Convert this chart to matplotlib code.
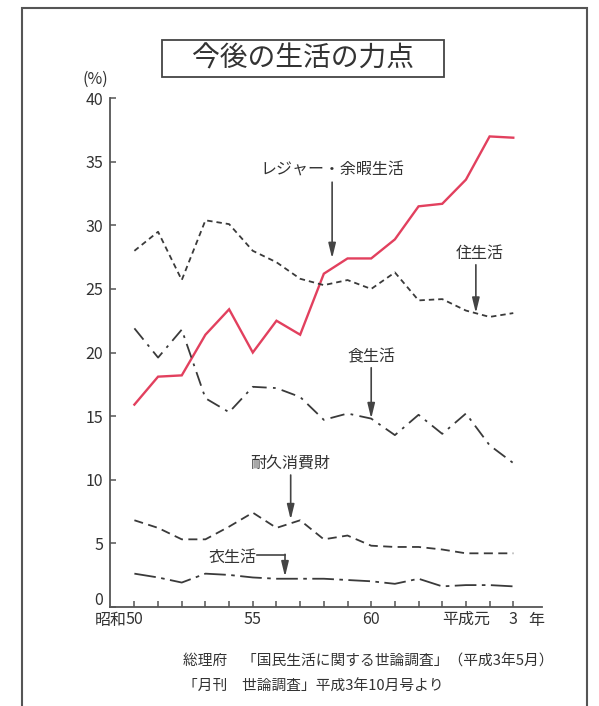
import matplotlib
matplotlib.use("Agg")
import matplotlib.pyplot as plt
import matplotlib.transforms as mtransforms
from matplotlib.patches import Rectangle

plt.rcParams['font.family'] = ['Noto Sans CJK JP', 'DejaVu Sans']

# ---- data ----
years_idx = list(range(17))  # 昭和50 (1975) ... 平成3 (1991)
leisure = [15.9, 18.1, 18.2, 21.4, 23.4, 20.0, 22.5, 21.4, 26.2, 27.4, 27.4,
           28.9, 31.5, 31.7, 33.6, 37.0, 36.9]
housing = [28.0, 29.5, 25.7, 30.4, 30.1, 28.0, 27.1, 25.8, 25.3, 25.7, 25.0,
           26.3, 24.1, 24.2, 23.3, 22.8, 23.1]
food = [21.9, 19.6, 21.8, 16.4, 15.3, 17.3, 17.2, 16.5, 14.7, 15.2, 14.8,
        13.5, 15.1, 13.6, 15.2, 12.7, 11.3]
durable = [6.8, 6.2, 5.3, 5.3, 6.3, 7.4, 6.2, 6.8, 5.3, 5.6, 4.8,
           4.7, 4.7, 4.5, 4.2, 4.2, 4.2]
clothing = [2.6, 2.3, 1.9, 2.6, 2.5, 2.3, 2.2, 2.2, 2.2, 2.1, 2.0,
            1.8, 2.2, 1.6, 1.7, 1.7, 1.6]
xtick_pos = [0, 5, 10, 14, 16]
xtick_labels = ['50', '55', '60', '平成元', '3']
ytick_vals = [0, 5, 10, 15, 20, 25, 30, 35, 40]

title = '今後の生活の力点'
source1 = '総理府　「国民生活に関する世論調査」（平成3年5月）'
source2 = '「月刊　世論調査」平成3年10月号より'

W, H = 599, 706
fig = plt.figure(figsize=(W / 100, H / 100), dpi=100)
fig.patch.set_facecolor('white')

ax_l, ax_r, ax_t, ax_b = 110, 541.7, 98.3, 606.7
ax = fig.add_axes([ax_l / W, 1 - ax_b / H, (ax_r - ax_l) / W, (ax_b - ax_t) / H])
ax.set_xlim(-1.03, 17.2)
ax.set_ylim(0, 40)

line_c = '#3a3a3a'
ax.plot(years_idx, leisure, color='#e2405e', lw=1.7, solid_joinstyle='miter')
ax.plot(years_idx, housing, color=line_c, lw=1.3, dashes=(3, 2.2))
ax.plot(years_idx, food, color=line_c, lw=1.3, dashes=(8, 3.5, 1.5, 3.5))
ax.plot(years_idx, durable, color=line_c, lw=1.3, dashes=(5, 3))
ax.plot(years_idx, clothing, color=line_c, lw=1.3, dashes=(12, 3, 2, 3))

for s in ['top', 'right']:
    ax.spines[s].set_visible(False)
for s in ['left', 'bottom']:
    ax.spines[s].set_color('#555555')
    ax.spines[s].set_linewidth(1.3)

ax.set_yticks(ytick_vals)
ax.set_yticklabels([str(v) for v in ytick_vals])
ax.set_xticks(years_idx)
ax.set_xticklabels([xtick_labels[xtick_pos.index(i)] if i in xtick_pos else '' for i in years_idx])
ax.tick_params(axis='both', direction='in', length=4, width=1.1, color='#555555',
               labelsize=11.5, labelcolor='#333333')
ax.tick_params(axis='y', pad=5)
ax.tick_params(axis='x', pad=3)

# raise the "0" label as in the reference
fig.canvas.draw()
for lab in ax.get_yticklabels():
    if lab.get_text() == '0':
        lab.set_transform(lab.get_transform() +
                          mtransforms.ScaledTranslation(0, 8 / 100, fig.dpi_scale_trans))

xt = mtransforms.blended_transform_factory(ax.transData, ax.transAxes)
lab_y = -(620 - ax_b) / (ax_b - ax_t)
ax.text(-0.32, lab_y, '昭和', transform=xt, ha='right', va='center',
        fontsize=11.5, color='#333333')
ax.text(16.98, lab_y, '年', transform=xt, ha='center', va='center',
        fontsize=11.5, color='#333333')

ax.text(95 / W, 1 - 79 / H, '(%)', transform=fig.transFigure, ha='center', va='center',
        fontsize=11.5, color='#333333')

# annotations
txt_c = '#333333'
arr = dict(arrowstyle='-|>,head_width=0.22,head_length=0.9', color='#444444', lw=1.2,
           shrinkA=0, shrinkB=0)
fs_ann = 11.5
ax.text(8.35, 34.36, 'レジャー・余暇生活', ha='center', va='center', fontsize=fs_ann, color=txt_c)
ax.annotate('', xy=(8.35, 27.4), xytext=(8.35, 33.4), arrowprops=arr)

ax.text(14.57, 27.75, '住生活', ha='center', va='center', fontsize=fs_ann, color=txt_c)
ax.annotate('', xy=(14.42, 23.1), xytext=(14.42, 26.9), arrowprops=arr)

ax.text(10.0, 19.67, '食生活', ha='center', va='center', fontsize=fs_ann, color=txt_c)
ax.annotate('', xy=(10.0, 14.8), xytext=(10.0, 18.8), arrowprops=arr)

ax.text(6.57, 11.28, '耐久消費財', ha='center', va='center', fontsize=fs_ann, color=txt_c)
ax.annotate('', xy=(6.6, 6.85), xytext=(6.6, 10.36), arrowprops=arr)

ax.text(4.14, 3.91, '衣生活', ha='center', va='center', fontsize=fs_ann, color=txt_c)
ax.plot([5.18, 6.36], [4.07, 4.07], color='#444444', lw=1.2)
ax.annotate('', xy=(6.36, 2.36), xytext=(6.36, 4.12), arrowprops=arr)

# title box
fig.patches.append(Rectangle((161.7 / W, 1 - 76.7 / H), (444 - 161.7) / W, (76.7 - 40) / H,
                             transform=fig.transFigure, fill=False, ec='#444444', lw=1.3))
fig.text(303 / W, 1 - 58.5 / H, title, ha='center', va='center', fontsize=20, color='#333333')

# source lines
fig.text(183 / W, 1 - 661 / H, source1, ha='left', va='center', fontsize=10.6, color='#333333')
fig.text(183 / W, 1 - 687 / H, source2, ha='left', va='center', fontsize=10.6, color='#333333')

# page border
fig.patches.append(Rectangle((22 / W, -0.05), (587 - 22) / W, 1.05 - 8 / H,
                             transform=fig.transFigure, fill=False, ec='#555555', lw=1.5))

fig.savefig('out.png', dpi=100, facecolor='white')
